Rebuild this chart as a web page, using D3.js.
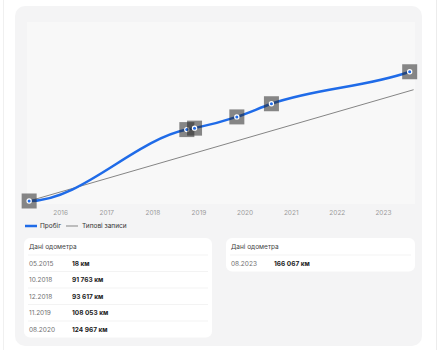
<!DOCTYPE html>
<html>
<head>
<meta charset="utf-8">
<script src="https://cdn.jsdelivr.net/npm/d3@7"></script>
<style>
  body { margin: 0; background: #fff; }
  svg { display: block; font-family: Inter, "Noto Sans", sans-serif; }
</style>
</head>
<body>
<script>
// odometer readings
var dates = ["2015-05", "2018-10", "2018-12", "2019-11", "2020-08", "2023-08"];
var mileage = [18, 91763, 93617, 108053, 124967, 166067];

// typical records line (start / end)
var typicalDates = ["2015-05", "2023-09"];
var typicalValues = [18, 143000];

var years = [2016, 2017, 2018, 2019, 2020, 2021, 2022, 2023];
var legendLabels = ["Пробіг", "Типові записи"];
var tableTitle = "Дані одометра";

var w = 440, h = 350;
var blue = "#1f6be8";

var parse = function(s) { var p = s.split("-"); return new Date(+p[0], +p[1] - 1, 1); };
var points = dates.map(function(d, i) { return { date: parse(d), value: mileage[i] }; });
var typical = typicalDates.map(function(d, i) { return { date: parse(d), value: typicalValues[i] }; });

// hermite spline: flat start, weighted slopes inside, last slope carried to the end
function smoothCurve(context) {
    var pts;
    return {
        areaStart: function() {}, areaEnd: function() {},
        lineStart: function() { pts = []; },
        point: function(x, y) { pts.push([x, y]); },
        lineEnd: function() {
            var n = pts.length, s = [], hh = [], t = [];
            for (var i = 0; i < n - 1; i++) {
                hh[i] = pts[i + 1][0] - pts[i][0];
                s[i] = (pts[i + 1][1] - pts[i][1]) / hh[i];
            }
            t[0] = 0;
            for (i = 1; i < n - 1; i++) t[i] = (s[i - 1] * hh[i] + s[i] * hh[i - 1]) / (hh[i - 1] + hh[i]);
            t[n - 1] = t[n - 2];
            context.moveTo(pts[0][0], pts[0][1]);
            for (i = 0; i < n - 1; i++) {
                var dx = hh[i] / 3;
                context.bezierCurveTo(pts[i][0] + dx, pts[i][1] + t[i] * dx,
                    pts[i + 1][0] - dx, pts[i + 1][1] - t[i + 1] * dx,
                    pts[i + 1][0], pts[i + 1][1]);
            }
        }
    };
}

var svg = d3.select("body").append("svg")
    .attr("width", w)
    .attr("height", h);

// page frame + card
svg.append("line").attr("x1", 3.5).attr("x2", 3.5).attr("y1", 0).attr("y2", h).attr("stroke", "#f0f0f0");
svg.append("line").attr("x1", 436.5).attr("x2", 436.5).attr("y1", 0).attr("y2", h).attr("stroke", "#ececec");
svg.append("rect")
    .attr("x", 15).attr("y", 6).attr("width", 407).attr("height", 340).attr("rx", 10)
    .attr("fill", "#f4f4f5");
svg.append("rect")
    .attr("x", 27).attr("y", 22).attr("width", 388).attr("height", 182)
    .attr("fill", "#f8f8f8");

var x = d3.scaleTime()
    .domain([new Date(2015, 0, 1), new Date(2024, 0, 1)])
    .range([14, 429]);

var y = d3.scaleLinear()
    .domain([0, 230000])
    .range([201, 22]);

// year labels
var axis = svg.append("g")
    .attr("transform", "translate(0,207)")
    .call(d3.axisBottom(x)
        .tickValues(years.map(function(yr) { return new Date(yr, 0, 1); }))
        .tickFormat(d3.timeFormat("%Y"))
        .tickSize(0));
axis.select(".domain").remove();
axis.selectAll("text")
    .attr("fill", "#9a9a9a")
    .attr("font-size", "6.5px")
    .attr("font-family", "Inter, sans-serif");

// typical line
var line = d3.line()
    .x(function(d) { return x(d.date); })
    .y(function(d) { return y(d.value); });

svg.append("path")
    .datum(typical)
    .attr("d", line)
    .attr("fill", "none")
    .attr("stroke", "#858585")
    .attr("stroke-width", 1);

// mileage line
svg.append("path")
    .datum(points)
    .attr("d", line.curve(smoothCurve))
    .attr("fill", "none")
    .attr("stroke", blue)
    .attr("stroke-width", 2.5);

// markers
var m = svg.selectAll(".marker")
    .data(points)
    .enter().append("g")
    .attr("class", "marker")
    .attr("transform", function(d) { return "translate(" + x(d.date) + "," + y(d.value) + ")"; });
m.append("rect")
    .attr("x", -7.5).attr("y", -7.5).attr("width", 15).attr("height", 15)
    .attr("fill", "rgba(40,40,40,0.55)");
m.append("circle").attr("r", 2.7).attr("fill", "#fff");
m.append("circle").attr("r", 1.5).attr("fill", blue);

// legend
var lg = svg.append("g").attr("transform", "translate(0,226)");
lg.append("line").attr("x1", 25).attr("x2", 37).attr("stroke", blue).attr("stroke-width", 2.5);
lg.append("text").attr("x", 40).attr("y", 2.3).attr("font-size", "6.5px").attr("fill", "#333").text(legendLabels[0]);
lg.append("line").attr("x1", 66).attr("x2", 78).attr("stroke", "#858585").attr("stroke-width", 1);
lg.append("text").attr("x", 82).attr("y", 2.3).attr("font-size", "6.5px").attr("fill", "#333").text(legendLabels[1]);

// tables
var fmtDate = d3.timeFormat("%m.%Y");
var fmtKm = function(v) { return d3.format(",")(v).replace(/,/g, " ") + " км"; };

function table(rows, tx, ty, tw) {
    var rowH = 16.5;
    var g = svg.append("g").attr("transform", "translate(" + tx + "," + ty + ")");
    g.append("rect")
        .attr("width", tw).attr("height", 17 + rows.length * rowH)
        .attr("rx", 6).attr("fill", "#fff");
    g.append("text").attr("x", 5).attr("y", 11).attr("font-size", "6.5px").attr("fill", "#444").text(tableTitle);
    var r = g.selectAll(".row").data(rows).enter().append("g")
        .attr("transform", function(d, i) { return "translate(0," + (17 + i * rowH) + ")"; });
    r.append("line").attr("x1", 4).attr("x2", tw - 4).attr("y1", 0).attr("y2", 0)
        .attr("stroke", "#f0f0f0").attr("stroke-width", 0.8);
    r.append("text").attr("x", 5).attr("y", 10.5).attr("font-size", "6.5px").attr("fill", "#707070")
        .text(function(d) { return fmtDate(d.date); });
    r.append("text").attr("x", 48).attr("y", 10.5).attr("font-size", "6.5px").attr("font-weight", "bold").attr("fill", "#222")
        .text(function(d) { return fmtKm(d.value); });
}

table(points.slice(0, 5), 24, 238, 188);
table(points.slice(5), 226, 238, 189);
</script>
</body>
</html>
